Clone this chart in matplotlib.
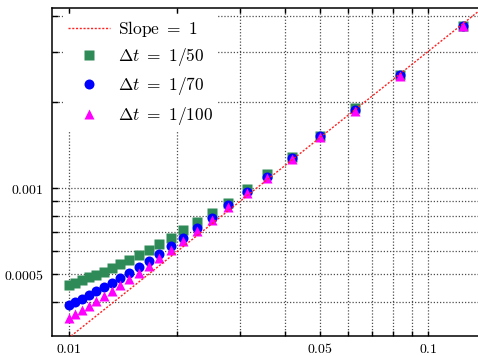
import numpy as np
import matplotlib
matplotlib.use("Agg")
import matplotlib.pyplot as plt
from matplotlib.ticker import FixedLocator, FuncFormatter

plt.rcParams['mathtext.fontset'] = 'cm'
plt.rcParams['font.family'] = ['DejaVu Serif']

# mesh sizes h = 1/N
N = [8, 12, 16, 20, 24, 28, 32, 36, 40, 44, 48, 52,
     56, 60, 64, 68, 72, 76, 80, 84, 88, 92, 96, 100]

# errors (x 1e-3), same order as N
err_dt50 = [3.694, 2.484, 1.897, 1.523, 1.280, 1.119, 0.9896, 0.8899, 0.8176, 0.7625, 0.7129, 0.6686,
            0.6372, 0.6072, 0.5834, 0.5602, 0.5411, 0.5239, 0.5085, 0.4965, 0.4874, 0.4768, 0.4666, 0.4590]
err_dt70 = [3.694, 2.479, 1.874, 1.516, 1.276, 1.095, 0.9660, 0.8700, 0.7873, 0.7229, 0.6702, 0.6268,
            0.5881, 0.5569, 0.5294, 0.5056, 0.4857, 0.4666, 0.4505, 0.4352, 0.4214, 0.4091, 0.3985, 0.3899]
err_dt100 = [3.685, 2.471, 1.866, 1.511, 1.268, 1.088, 0.9583, 0.8561, 0.7732, 0.7056, 0.6542, 0.6072,
             0.5678, 0.5350, 0.5045, 0.4795, 0.4568, 0.4363, 0.4181, 0.4017, 0.3868, 0.3736, 0.3617, 0.3519]

slope_coef = 0.03
slope_x = [0.008, 0.15]

x_ticks = [0.01, 0.02, 0.03, 0.04, 0.05, 0.06, 0.07, 0.08, 0.09, 0.1]
x_labels = {0.01: '0.01', 0.05: '0.05', 0.1: '0.1'}
y_ticks = [0.0004, 0.0005, 0.0006, 0.0007, 0.0008, 0.0009, 0.001, 0.002, 0.003, 0.004]
y_labels = {0.0005: '0.0005', 0.001: '0.001'}

h = 1.0 / np.array(N)
scale = 1e-3

fig = plt.figure(figsize=(4.78, 3.56), dpi=100)
ax = fig.add_axes([0.1088, 0.0562, 0.8912, 0.9213])
ax.set_xscale('log')
ax.set_yscale('log')

sx = np.array(slope_x)
ax.plot(sx, slope_coef * sx, color='#ff2020', ls=(0, (1.5, 1.2)), lw=1.0,
        label=r'$\mathrm{Slope}\ =\ 1$', zorder=5)
ax.plot(h, np.array(err_dt50) * scale, 's', color='#2e8b57', ms=6.8, mec='none',
        label=r'$\Delta t\ =\ 1/50$', zorder=3)
ax.plot(h, np.array(err_dt70) * scale, 'o', color='#0000ff', ms=7.2, mec='none',
        label=r'$\Delta t\ =\ 1/70$', zorder=3)
ax.plot(h, np.array(err_dt100) * scale, '^', color='#ff00ff', ms=7.0, mec='none',
        label=r'$\Delta t\ =\ 1/100$', zorder=4)

ax.set_xlim(0.008965, 0.1378)
ax.set_ylim(0.0003039, 0.004259)

ax.xaxis.set_major_locator(FixedLocator(x_ticks))
ax.xaxis.set_minor_locator(FixedLocator([]))
ax.yaxis.set_major_locator(FixedLocator(y_ticks))
ax.yaxis.set_minor_locator(FixedLocator([]))


def pick(labels):
    def fmt(v, pos):
        for k, s in labels.items():
            if abs(v - k) < 1e-9:
                return '$' + s + '$'
        return ''
    return FuncFormatter(fmt)


ax.xaxis.set_major_formatter(pick(x_labels))
ax.yaxis.set_major_formatter(pick(y_labels))
ax.tick_params(axis='x', which='major', direction='in', length=3.5, width=1.0,
               top=True, labelsize=10, pad=4)
ax.tick_params(axis='y', which='major', direction='in', length=4.5, width=1.0,
               right=False, labelsize=10, pad=6)

ax.grid(True, which='major', color='0.3', ls=(0, (1, 1.5)), lw=0.9)
ax.set_axisbelow(True)
ax.spines['right'].set_visible(False)
for s in ['left', 'bottom', 'top']:
    ax.spines[s].set_linewidth(1.1)

leg = ax.legend(loc='upper left', bbox_to_anchor=(0.025, 0.983), fontsize=12.5,
                frameon=True, fancybox=False, edgecolor='none', facecolor='white',
                framealpha=1.0, labelspacing=0.42, handlelength=2.4,
                handletextpad=0.46, borderaxespad=0.0, borderpad=0.3)
leg.set_zorder(10)

fig.savefig('out.png', dpi=100)
